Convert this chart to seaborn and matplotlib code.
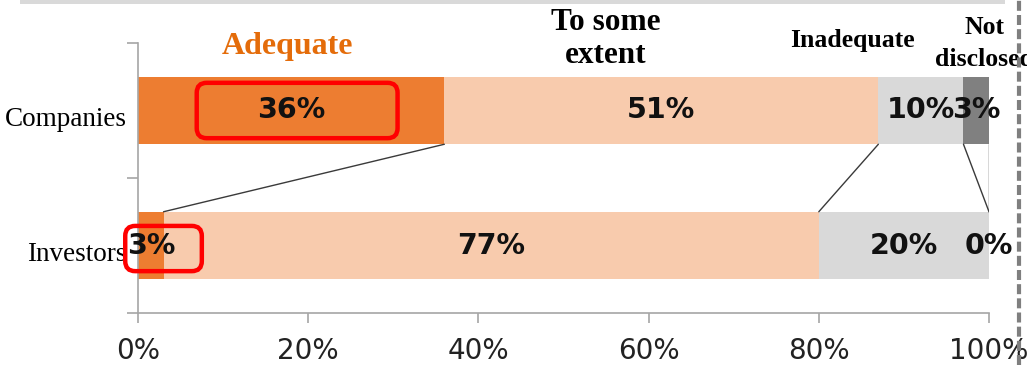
import matplotlib
matplotlib.use("Agg")
import matplotlib.pyplot as plt
from matplotlib.patches import FancyBboxPatch, Rectangle
from matplotlib.lines import Line2D
from matplotlib.transforms import blended_transform_factory, ScaledTranslation
import numpy as np
import pandas as pd
import seaborn as sns

# Survey responses (% of respondents)
groups = ["Companies", "Investors"]
segments = ["Adequate", "To some extent", "Inadequate", "Not disclosed"]
companies = [36, 51, 10, 3]
investors = [3, 77, 20, 0]
xtick_values = [0, 20, 40, 60, 80, 100]
xtick_labels = [f"{v}%" for v in xtick_values]

seg_colors = ["#ED7D31", "#F8CBAD", "#D9D9D9", "#808080"]
header_colors = ["#E46C0A", "#000000", "#000000", "#000000"]

sns.set_theme(style="white")
plt.rcParams["font.family"] = ["DejaVu Sans"]

fig = plt.figure(figsize=(10.27, 3.65), dpi=100)
ax = fig.add_axes([138 / 1027, 52 / 365, (989 - 138) / 1027, 270 / 365])

values = np.array([companies, investors], dtype=float)
cums = np.cumsum(values, axis=1)

# Stacked bars: draw cumulative totals from the outermost segment inwards
for i in range(len(segments) - 1, -1, -1):
    df = pd.DataFrame({"group": groups, "cum": cums[:, i]})
    sns.barplot(data=df, x="cum", y="group", order=groups, color=seg_colors[i],
                width=0.5, saturation=1, errorbar=None, orient="h", ax=ax,
                linewidth=0)

ax.set_xlim(0, 100)
ax.set_ylim(1.5, -0.5)
ax.set_xlabel("")
ax.set_ylabel("")

# Value labels centred on each segment
for gi in range(len(groups)):
    for si in range(len(segments)):
        v = values[gi, si]
        center = cums[gi, si] - v / 2
        ax.text(center, gi, f"{int(v)}%", ha="center", va="center",
                fontsize=20.5, fontweight="bold", color="#111111",
                family="DejaVu Sans", zorder=6, clip_on=False)

# Connector lines between the segment boundaries of the two bars
half = 0.25
for si in range(len(segments)):
    ax.add_line(Line2D([cums[0, si], cums[1, si]], [0 + half, 1 - half],
                       color="#3a3a3a", lw=1.0, zorder=4))

# Highlight boxes around the "Adequate" values
def highlight(x0, x1, y0, y1):
    px_x = ax.get_window_extent().width / 100
    px_y = ax.get_window_extent().height / 2
    r = 10 / px_x
    box = FancyBboxPatch((x0, y0), x1 - x0, y1 - y0,
                         boxstyle=f"round,pad=0,rounding_size={r}",
                         mutation_aspect=px_x / px_y,
                         fill=False, edgecolor="#FF0000", lw=3.2,
                         zorder=7, clip_on=False)
    ax.add_patch(box)

highlight(6.9, 30.5, -0.205, 0.205)
highlight(-1.5, 7.5, 0.855, 1.19)

# Axes styling
sns.despine(ax=ax, top=True, right=True)
for side in ["left", "bottom"]:
    ax.spines[side].set_color("#A6A6A6")
    ax.spines[side].set_linewidth(1.2)

ax.set_xticks(xtick_values)
ax.set_xticklabels(xtick_labels, fontsize=20, color="#222222")
ax.tick_params(axis="x", direction="out", length=7, width=1.2,
               color="#A6A6A6", pad=10, bottom=True)

ax.set_yticks([0, 1])
ax.set_yticklabels(groups, family="Liberation Serif", fontsize=19.5,
                   color="#000000")
ax.set_yticks([-0.5, 0.5, 1.5], minor=True)
ax.tick_params(axis="y", which="major", length=0, pad=8, left=False)
ax.tick_params(axis="y", which="minor", direction="out", length=8,
               width=1.2, color="#A6A6A6", left=True)
shift = ScaledTranslation(0, -4 / 72, fig.dpi_scale_trans)
for lab in ax.get_yticklabels():
    lab.set_transform(lab.get_transform() + shift)

# Category headers above the bars
trans = blended_transform_factory(ax.transData, ax.transAxes)
headers = [
    (17.6, 0.988, "Adequate", 23, 1.0),
    (55.0, 1.015, "To some\nextent", 22.5, 1.15),
    (84.0, 1.011, "Inadequate", 18.5, 1.0),
    (99.5, 0.998, "Not\ndisclosed", 18.5, 1.45),
]
for (x, y, label, size, ls), col in zip(headers, header_colors):
    ax.text(x, y, label, transform=trans, ha="center", va="center",
            family="Liberation Serif", fontweight="bold", fontsize=size,
            color=col, linespacing=ls, clip_on=False, zorder=6)

# Page decorations: top rule and dashed right border
fig.add_artist(Rectangle((20 / 1027, 361 / 365), 985 / 1027, 4 / 365,
                         transform=fig.transFigure, color="#D9D9D9", lw=0))
fig.add_artist(Line2D([1019 / 1027, 1019 / 1027], [0, 1],
                      transform=fig.transFigure, color="#7F7F7F", lw=3.0,
                      dashes=(2.4, 1.0), zorder=10))

fig.savefig("out.png", dpi=100)
